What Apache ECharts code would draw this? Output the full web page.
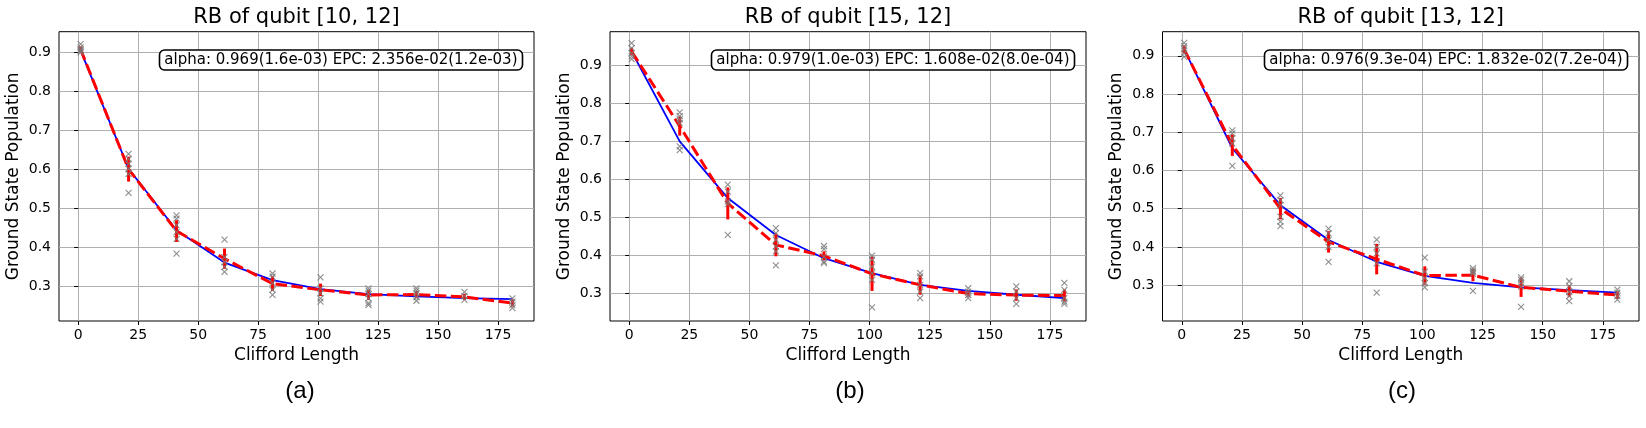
<!DOCTYPE html>
<html>
<head>
<meta charset="utf-8">
<title>RB of qubits</title>
<script src="https://cdn.jsdelivr.net/npm/echarts@6/dist/echarts.min.js"></script>
<style>
  html, body { margin: 0; padding: 0; background: #fff; }
  #chart { width: 1646px; height: 428px; }
</style>
</head>
<body>
<div id="chart"></div>
<script>
// Clifford lengths, same for every panel
const lengths = [1, 21, 41, 61, 81, 101, 121, 141, 161, 181];
const xTicks = [0, 25, 50, 75, 100, 125, 150, 175];
const yTicks = [0.3, 0.4, 0.5, 0.6, 0.7, 0.8, 0.9];

// (a) qubit [10, 12]
const seedsA = [
  [0.921, 0.913, 0.907, 0.904, 0.900],
  [0.639, 0.626, 0.614, 0.601, 0.588, 0.539],
  [0.481, 0.473, 0.456, 0.438, 0.421, 0.383],
  [0.419, 0.374, 0.361, 0.349, 0.336],
  [0.332, 0.324, 0.307, 0.290, 0.277],
  [0.322, 0.294, 0.281, 0.268, 0.260],
  [0.294, 0.288, 0.279, 0.268, 0.256, 0.251],
  [0.294, 0.288, 0.281, 0.271, 0.262],
  [0.285, 0.274, 0.264],
  [0.268, 0.260, 0.251, 0.243]
];
const meanA = [0.908, 0.600, 0.441, 0.370, 0.306, 0.290, 0.277, 0.278, 0.272, 0.256];
const errA = [0.007, 0.032, 0.028, 0.026, 0.019, 0.016, 0.013, 0.009, 0.008, 0.009];
const fitA = [0.905, 0.601, 0.443, 0.360, 0.315, 0.292, 0.279, 0.273, 0.269, 0.266];

// (b) qubit [15, 12]
const seedsB = [
  [0.958, 0.945, 0.932, 0.923, 0.916],
  [0.776, 0.766, 0.758, 0.748, 0.687, 0.677],
  [0.586, 0.568, 0.542, 0.535, 0.454],
  [0.472, 0.459, 0.441, 0.424, 0.411, 0.374],
  [0.425, 0.417, 0.397, 0.384, 0.380],
  [0.400, 0.389, 0.371, 0.354, 0.336, 0.264],
  [0.354, 0.345, 0.323, 0.305, 0.288],
  [0.314, 0.305, 0.296, 0.288],
  [0.319, 0.305, 0.288, 0.273],
  [0.328, 0.310, 0.288, 0.279, 0.273]
];
const meanB = [0.936, 0.740, 0.537, 0.428, 0.399, 0.352, 0.323, 0.300, 0.296, 0.295];
const errB = [0.010, 0.025, 0.042, 0.030, 0.012, 0.045, 0.026, 0.008, 0.015, 0.016];
const fitB = [0.936, 0.700, 0.551, 0.454, 0.393, 0.354, 0.323, 0.307, 0.297, 0.288];

// (c) qubit [13, 12]
const seedsC = [
  [0.934, 0.925, 0.917, 0.906, 0.897],
  [0.705, 0.697, 0.684, 0.671, 0.612],
  [0.535, 0.522, 0.509, 0.479, 0.466, 0.454],
  [0.448, 0.435, 0.418, 0.400, 0.361],
  [0.419, 0.400, 0.383, 0.357, 0.280],
  [0.372, 0.335, 0.318, 0.305, 0.294],
  [0.344, 0.338, 0.335, 0.330, 0.285],
  [0.320, 0.314, 0.305, 0.296, 0.243],
  [0.310, 0.297, 0.282, 0.271, 0.258],
  [0.288, 0.280, 0.271, 0.262]
];
const meanC = [0.917, 0.666, 0.500, 0.413, 0.368, 0.325, 0.326, 0.294, 0.284, 0.274];
const errC = [0.010, 0.028, 0.028, 0.028, 0.040, 0.024, 0.016, 0.025, 0.015, 0.010];
const fitC = [0.917, 0.658, 0.509, 0.418, 0.361, 0.324, 0.306, 0.294, 0.287, 0.280];

const titles = ['RB of qubit [10, 12]', 'RB of qubit [15, 12]', 'RB of qubit [13, 12]'];
const notes = [
  'alpha: 0.969(1.6e-03) EPC: 2.356e-02(1.2e-03)',
  'alpha: 0.979(1.0e-03) EPC: 1.608e-02(8.0e-04)',
  'alpha: 0.976(9.3e-04) EPC: 1.832e-02(7.2e-04)'
];
const tags = ['(a)', '(b)', '(c)'];

// layout of each panel (pixels) and its y range
const panels = [
  { seeds: seedsA, mean: meanA, err: errA, fit: fitA, left: 59, right: 534, tagX: 300, yMin: 0.210, yMax: 0.953 },
  { seeds: seedsB, mean: meanB, err: errB, fit: fitB, left: 610, right: 1086, tagX: 850, yMin: 0.228, yMax: 0.988 },
  { seeds: seedsC, mean: meanC, err: errC, fit: fitC, left: 1162.5, right: 1639, tagX: 1402, yMin: 0.206, yMax: 0.963 }
];

const FONT = 'DejaVu Sans';
const TOP = 31.7;
const BOTTOM = 321;

const grids = [], xAxes = [], yAxes = [], series = [], texts = [];

panels.forEach(function (p, i) {
  grids.push({
    left: p.left, top: TOP, width: p.right - p.left, height: BOTTOM - TOP,
    show: true, borderColor: '#000', borderWidth: 1, backgroundColor: 'transparent',
    containLabel: false, outerBoundsMode: 'none'
  });

  xAxes.push({
    type: 'value', gridIndex: i, min: -8, max: 190,
    name: 'Clifford Length', nameLocation: 'middle', nameGap: 24,
    nameTextStyle: { fontFamily: FONT, fontSize: 17, color: '#000' },
    axisLine: { show: false },
    axisTick: { show: true, customValues: xTicks, length: 4, lineStyle: { color: '#000', width: 1 } },
    axisLabel: { customValues: xTicks, fontFamily: FONT, fontSize: 14, color: '#000', margin: 7 },
    splitLine: { show: true, lineStyle: { color: '#b0b0b0', width: 1 } }
  });

  yAxes.push({
    type: 'value', gridIndex: i, min: p.yMin, max: p.yMax,
    name: 'Ground State Population', nameLocation: 'middle', nameGap: 37,
    nameTextStyle: { fontFamily: FONT, fontSize: 17, color: '#000' },
    axisLine: { show: false },
    axisTick: { show: true, customValues: yTicks, length: 4, lineStyle: { color: '#000', width: 1 } },
    axisLabel: {
      customValues: yTicks, fontFamily: FONT, fontSize: 14, color: '#000', margin: 8,
      formatter: function (v) { return v.toFixed(1); }
    },
    splitLine: { show: true, lineStyle: { color: '#b0b0b0', width: 1 } }
  });

  // fitted decay curve
  series.push({
    type: 'line', xAxisIndex: i, yAxisIndex: i, z: 2,
    data: lengths.map(function (x, k) { return [x, p.fit[k]]; }),
    showSymbol: false, symbol: 'none',
    lineStyle: { color: '#0000ff', width: 1.8 }
  });

  // mean over seeds, dashed
  series.push({
    type: 'line', xAxisIndex: i, yAxisIndex: i, z: 3,
    data: lengths.map(function (x, k) { return [x, p.mean[k]]; }),
    showSymbol: false, symbol: 'none',
    lineStyle: { color: '#ff0000', width: 3, type: [11.5, 4.5] }
  });

  // error bars (mean +- std)
  series.push({
    type: 'custom', xAxisIndex: i, yAxisIndex: i, z: 4,
    encode: { x: 0, y: [1, 2] },
    data: lengths.map(function (x, k) { return [x, p.mean[k] - p.err[k], p.mean[k] + p.err[k]]; }),
    renderItem: function (params, api) {
      const lo = api.coord([api.value(0), api.value(1)]);
      const hi = api.coord([api.value(0), api.value(2)]);
      return {
        type: 'line',
        shape: { x1: lo[0], y1: lo[1], x2: hi[0], y2: hi[1] },
        style: { stroke: '#ff0000', lineWidth: 3 }
      };
    }
  });

  // individual seeds
  const pts = [];
  p.seeds.forEach(function (ys, k) {
    ys.forEach(function (y) { pts.push([lengths[k], y]); });
  });
  series.push({
    type: 'scatter', xAxisIndex: i, yAxisIndex: i, z: 5,
    data: pts,
    symbol: 'path://M0 0L10 10M10 0L0 10', symbolSize: 6,
    itemStyle: { color: 'rgba(0,0,0,0)', borderColor: '#7a7a7a', borderWidth: 1.1, opacity: 0.85 }
  });

  const cx = (p.left + p.right) / 2;

  // panel title
  texts.push({
    text: titles[i], left: cx, top: 17.5, padding: 0,
    textAlign: 'center', textVerticalAlign: 'middle',
    textStyle: { fontFamily: FONT, fontSize: 21, fontWeight: 'normal', color: '#000' }
  });

  // fit result box
  texts.push({
    text: notes[i], left: p.right - 21.5, top: 57, padding: [3, 5],
    textAlign: 'right', textVerticalAlign: 'middle',
    borderColor: '#000', borderWidth: 1.6, borderRadius: 5, backgroundColor: '#fff',
    textStyle: { fontFamily: FONT, fontSize: 15, fontWeight: 'normal', color: '#000' }
  });

  // sub-figure tag
  texts.push({
    text: tags[i], left: p.tagX, top: 391, padding: 0,
    textAlign: 'center', textVerticalAlign: 'middle',
    textStyle: { fontFamily: 'Liberation Sans', fontSize: 24, fontWeight: 'normal', color: '#000' }
  });
});

const chart = echarts.init(document.getElementById('chart'));
chart.setOption({
  animation: false,
  backgroundColor: '#fff',
  title: texts,
  grid: grids,
  xAxis: xAxes,
  yAxis: yAxes,
  series: series
});
</script>
</body>
</html>
